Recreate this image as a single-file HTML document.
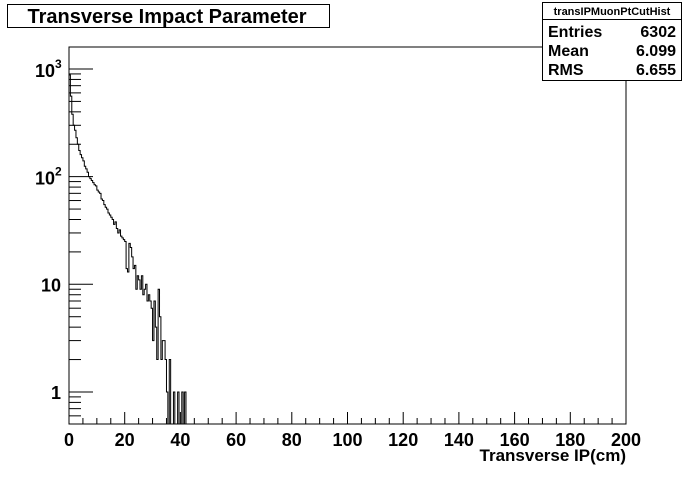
<!DOCTYPE html>
<html><head><meta charset="utf-8"><style>
body{margin:0;background:#fff;}
svg text{font-family:"Liberation Sans",Arial,sans-serif;font-weight:bold;}
</style></head><body>
<svg width="696" height="472" viewBox="0 0 696 472">
<rect x="0" y="0" width="696" height="472" fill="#fff"/>
<g>
<rect x="7.5" y="4.5" width="322" height="23" fill="#fff" stroke="#000"/>
<text x="167" y="23" font-size="20" text-anchor="middle">Transverse Impact Parameter</text>
</g>
<rect x="69" y="47" width="557" height="377" fill="none" stroke="#000"/>
<g id="axes"></g>
<path id="hist" fill="none" stroke="#000" stroke-width="1"/>
<g>
<rect x="542.5" y="2.5" width="139" height="78" fill="#fff" stroke="#000"/>
<line x1="542.5" y1="19.5" x2="681.5" y2="19.5" stroke="#000"/>
<text x="612" y="15" font-size="11" text-anchor="middle">transIPMuonPtCutHist</text>
<text x="548" y="37" font-size="16">Entries</text>
<text x="676" y="37" font-size="16" text-anchor="end">6302</text>
<text x="548" y="56" font-size="16">Mean</text>
<text x="676" y="56" font-size="16" text-anchor="end">6.099</text>
<text x="548" y="75" font-size="16">RMS</text>
<text x="676" y="75" font-size="16" text-anchor="end">6.655</text>
</g>
<text x="626" y="461" font-size="17" text-anchor="end">Transverse IP(cm)</text>
</svg>
<script>
const binWidth = 0.5;
const counts = [880,560,380,300,270,230,200,175,160,150,
140,125,118,110,100,96,92,88,84,82,
75,72,70,62,60,55,52,50,46,44,
42,40,36,38,33,30,32,28,27,26,
25,14,13,24,22,18,14,15,9,12,
11,9,12,8,9,10,7,8,7,6,
3,7,4,2,9,5,2,3,3,2,
1,0,2,0,0,1,0,0,1,0,
0,1,0,1];
const xTicks = [0,20,40,60,80,100,120,140,160,180,200];
const yDecades = [1,10,100,1000];
const yLabels = ["1","10","2","3"];
const X0=69,X1=626,Y0=424,Y1=47,XMIN=0,XMAX=200,YMIN=0.504,YMAX=1601;
const sx=v=>X0+(v-XMIN)/(XMAX-XMIN)*(X1-X0);
const sy=v=>v<=0?Y0:Math.min(Y0,Y0-(Math.log10(v)-Math.log10(YMIN))/(Math.log10(YMAX)-Math.log10(YMIN))*(Y0-Y1));
const NS="http://www.w3.org/2000/svg";
const ax=document.getElementById('axes');
function ln(x1,y1,x2,y2,name){const l=document.createElementNS(NS,'line');l.setAttribute('x1',x1);l.setAttribute('y1',y1);l.setAttribute('x2',x2);l.setAttribute('y2',y2);l.setAttribute('stroke','#000');


ax.appendChild(l);}
function tx(x,y,s,anchor,size,name){const t=document.createElementNS(NS,'text');t.setAttribute('x',x);t.setAttribute('y',y);t.setAttribute('text-anchor',anchor);t.setAttribute('font-size',size);t.textContent=s;


ax.appendChild(t);
return t;}
for(let v=0;v<=200;v+=5){const x=sx(v);const major=v%20===0;ln(x,Y0,x,Y0-(major?12:6),'x-tick');}
xTicks.forEach(v=>tx(sx(v),446,String(v),'middle',18,'x-tick-label'));
for(let d=0.1;d<2000;d*=10){for(let m=1;m<10;m++){const v=d*m;if(v<YMIN||v>YMAX)continue;const y=sy(v);ln(X0,y,X0+(m===1?24:12),y,'y-tick');}}
yDecades.forEach((v,i)=>{const y=sy(v);const s=yLabels[i];
if(v>=100){tx(55,y+8,'10','end',18,'y-tick-label');tx(55,y-1,s,'start',12,'y-tick-exponent');}
else tx(61,y+7,s,'end',18,'y-tick-label');});
let d='M'+sx(0)+','+Y0;
counts.forEach((c,i)=>{const y=sy(c);d+=' L'+sx(i*binWidth)+','+y+' L'+sx((i+1)*binWidth)+','+y;});
d+=' L'+sx(counts.length*binWidth)+','+Y0;
document.getElementById('hist').setAttribute('d',d);
</script>
</body></html>
